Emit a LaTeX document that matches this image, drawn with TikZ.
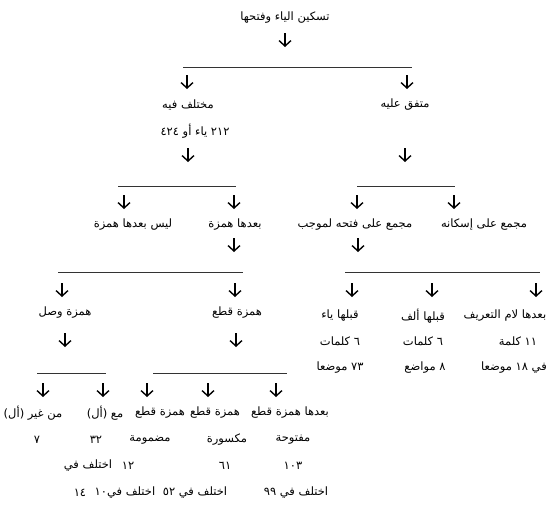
\documentclass[tikz,border=0pt]{standalone}
\usepackage{fontspec}
\newfontfamily\arabicfont[Script=Arabic]{DejaVu Sans}
\TeXXeTstate=1
\usetikzlibrary{arrows.meta}
\newcommand{\artxt}[1]{{\arabicfont\beginR #1\endR}}

\begin{document}
\begin{tikzpicture}[
  x=1pt, y=-1pt,
  lbl/.style={inner sep=1pt, font=\arabicfont\fontsize{11.5}{13}\selectfont},
  bar/.style={draw=black!80, line width=1pt},
  arr/.style={-{Straight Barb[length=5.5pt,width=12pt,line width=1.4pt]}, line width=1.4pt}]
  \useasboundingbox (0,0) rectangle (557,509);

  % level 0
  \node[lbl] (title) at (285,18) {\artxt{تسكين الياء وفتحها}};
  % level 1
  \node[lbl] (mukhtalaf) at (188,105) {\artxt{مختلف فيه}};
  \node[lbl] (muttafaq) at (405,105) {\artxt{متفق عليه}};
  \node[lbl] (adad) at (195,131) {\artxt{٢١٢ ياء أو ٤٢٤}};
  % level 2
  \node[lbl] (laysa) at (133,225) {\artxt{ليس بعدها همزة}};
  \node[lbl] (badaha) at (235,225) {\artxt{بعدها همزة}};
  \node[lbl] (fath) at (355,225) {\artxt{مجمع على فتحه لموجب}};
  \node[lbl] (iskan) at (484,225) {\artxt{مجمع على إسكانه}};
  % level 3
  \node[lbl] (wasl) at (65,313) {\artxt{همزة وصل}};
  \node[lbl] (qat) at (237,313) {\artxt{همزة قطع}};
  \node[lbl] (qablya) at (340,316) {\artxt{قبلها ياء}};
  \node[lbl] (qablalif) at (423,316) {\artxt{قبلها ألف}};
  \node[lbl] (lam) at (505,316) {\artxt{بعدها لام التعريف}};
  \node[lbl] (kal1) at (340,341) {\artxt{٦ كلمات}};
  \node[lbl] (kal2) at (423,341) {\artxt{٦ كلمات}};
  \node[lbl] (kal3) at (518,341) {\artxt{١١ كلمة}};
  \node[lbl] (mawd1) at (340,368) {\artxt{٧٣ موضعا}};
  \node[lbl] (mawd2) at (425,368) {\artxt{٨ مواضع}};
  \node[lbl] (mawd3) at (514,368) {\artxt{في ١٨ موضعا}};
  % level 4
  \node[lbl] (ghayr) at (33,413) {\artxt{من غير (أل)}};
  \node[lbl] (maal) at (105,413) {\artxt{مع (أل)}};
  \node[lbl] (damm) at (160,413) {\artxt{همزة قطع}};
  \node[lbl] (kasr) at (215,413) {\artxt{همزة قطع}};
  \node[lbl] (fatha) at (290,413) {\artxt{بعدها همزة قطع}};
  \node[lbl] (n7) at (37,440) {\artxt{٧}};
  \node[lbl] (n32) at (96,440) {\artxt{٣٢}};
  \node[lbl] (madmuma) at (150,440) {\artxt{مضمومة}};
  \node[lbl] (maksura) at (227,440) {\artxt{مكسورة}};
  \node[lbl] (maftuha) at (293,440) {\artxt{مفتوحة}};
  \node[lbl] (ikh14) at (88,466) {\artxt{اختلف في}};
  \node[lbl] (n12) at (128,466) {\artxt{١٢}};
  \node[lbl] (n61) at (225,466) {\artxt{٦١}};
  \node[lbl] (n103) at (293,466) {\artxt{١٠٣}};
  \node[lbl] (n14) at (80,493) {\artxt{١٤}};
  \node[lbl] (ikh10) at (125,493) {\artxt{اختلف في١٠}};
  \node[lbl] (ikh52) at (195,493) {\artxt{اختلف في ٥٢}};
  \node[lbl] (ikh99) at (296,493) {\artxt{اختلف في ٩٩}};

  % bars
  \foreach \b/\xa/\xb/\y in {b1/183/412/67, b2/118/236/186, b3/357/455/186,
      b4/58/243/272, b5/345/540/272, b6/37/106/373, b7/153/287/373}{
    \coordinate (\b-l) at (\xa,\y);
    \coordinate (\b-r) at (\xb,\y);
    \draw[bar] (\b-l) -- (\b-r);
  }

  % arrows
  \foreach \a/\x/\y in {t/285/40, m1/187/82, m2/407/82, m3/188/155, m4/405/155,
      l1/124/202, l2/234/202, l3/357/202, l4/454/202, l5/234/245, l6/358/245,
      w1/62/290, w2/235/290, w3/352/290, w4/432/290, w5/536/290,
      w6/65/340, w7/236/340,
      s1/43/390, s2/103/390, s3/147/390, s4/208/390, s5/276/390}{
    \coordinate (\a-s) at (\x,\y-7);
    \coordinate (\a-e) at (\x,\y+7);
    \draw[arr] (\a-s) -- (\a-e);
  }
\end{tikzpicture}
\end{document}
